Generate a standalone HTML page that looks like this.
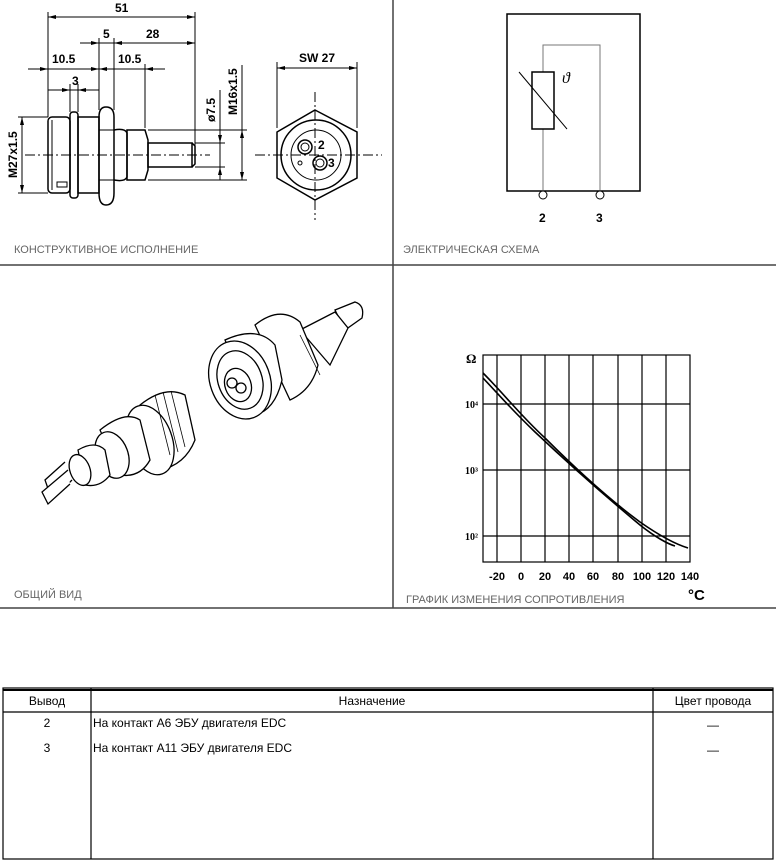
<!DOCTYPE html>
<html><head><meta charset="utf-8"><style>
html,body{margin:0;padding:0;background:#fff;}
body{width:776px;height:866px;overflow:hidden;position:relative;font-family:"Liberation Sans","DejaVu Sans",sans-serif;}
svg{position:absolute;left:0;top:0;}
text{stroke:none;}
.cap{font-family:"Liberation Sans",sans-serif;font-size:11px;fill:#666;}
.d{font-family:"Liberation Sans",sans-serif;font-size:12px;font-weight:bold;fill:#000;}
.t{font-family:"Liberation Sans",sans-serif;font-size:12px;fill:#000;}
</style></head><body>
<svg width="776" height="866" viewBox="0 0 776 866" fill="none" stroke="#000">
<line x1="393" y1="0" x2="393" y2="608" stroke="#444" stroke-width="1.5"/>
<line x1="0" y1="265" x2="776" y2="265" stroke="#444" stroke-width="1.5"/>
<line x1="0" y1="608" x2="776" y2="608" stroke="#444" stroke-width="1.5"/>

<g stroke-width="1">
<line x1="48" y1="17" x2="195" y2="17"/>
<line x1="80" y1="43" x2="195" y2="43"/>
<line x1="28" y1="69" x2="165" y2="69"/>
<line x1="48" y1="90" x2="99" y2="90"/>
<line x1="48" y1="12" x2="48" y2="117"/>
<line x1="195" y1="12" x2="195" y2="150"/>
<line x1="99" y1="38" x2="99" y2="110"/>
<line x1="114" y1="38" x2="114" y2="110"/>
<line x1="145" y1="64" x2="145" y2="128"/>
<line x1="70" y1="84" x2="70" y2="112"/>
<line x1="78" y1="84" x2="78" y2="112"/>
<line x1="220" y1="90" x2="220" y2="180"/>
<line x1="242" y1="65" x2="242" y2="180"/>
<line x1="22" y1="117" x2="22" y2="193"/>
<line x1="18" y1="117" x2="48" y2="117"/>
<line x1="18" y1="193" x2="48" y2="193"/>
<line x1="195" y1="143" x2="225" y2="143"/>
<line x1="195" y1="167" x2="225" y2="167"/>
<line x1="148" y1="130" x2="247" y2="130"/>
<line x1="148" y1="180" x2="247" y2="180"/>
<line x1="25" y1="155" x2="210" y2="155" stroke-dasharray="10,3,2,3"/>
<rect x="48" y="117" width="22" height="76" rx="4" stroke-width="1.5"/>
<line x1="52" y1="120" x2="52" y2="190"/>
<rect x="57" y="182" width="10" height="5"/>
<rect x="70" y="112" width="8" height="86" rx="3" stroke-width="1.5"/>
<rect x="78" y="117" width="21" height="76" stroke-width="1.5"/>
<path d="M99 117 Q99 107 106 107 Q114 107 114 117 L114 193 Q114 205 106 205 Q99 205 99 193 Z" stroke-width="1.5"/>
<line x1="99" y1="130" x2="114" y2="130"/><line x1="99" y1="180" x2="114" y2="180"/>
<path d="M114 130 Q125 128 127 133 L127 177 Q125 182 114 180" stroke-width="1.5"/>
<path d="M127 130 L145 130 L148 140 L148 170 L145 180 L127 180 Z" stroke-width="1.5"/>
<rect x="148" y="143" width="44" height="24" stroke-width="1.5"/>
<path d="M192 143 L195 146 L195 164 L192 167" stroke-width="1.5"/>
<line x1="255" y1="155" x2="382" y2="155" stroke-dasharray="10,3,2,3"/>
<line x1="315" y1="92" x2="315" y2="220" stroke-dasharray="10,3,2,3"/>
<line x1="277" y1="62" x2="277" y2="128"/>
<line x1="357" y1="62" x2="357" y2="128"/>
<line x1="277" y1="68" x2="357" y2="68"/>
<polygon points="315,110 357,132 357,178 315,200 277,178 277,132" stroke-width="1.5"/>
<circle cx="316" cy="155" r="35" stroke-width="1.5"/>
<circle cx="316" cy="155" r="25"/>
<circle cx="305" cy="147" r="7" stroke-width="1.5"/><circle cx="305" cy="147" r="4"/>
<circle cx="320" cy="163" r="7" stroke-width="1.5"/><circle cx="320" cy="163" r="4"/>
<circle cx="300" cy="163" r="2"/>
</g>
<g fill="#000" stroke="none">
<polygon points="48,17 56,15 56,19"/><polygon points="195,17 187,15 187,19"/>
<polygon points="99,43 91,41 91,45"/><polygon points="114,43 122,41 122,45"/><polygon points="195,43 187,41 187,45"/>
<polygon points="48,69 40,67 40,71"/><polygon points="99,69 91,67 91,71"/><polygon points="99,69 107,67 107,71"/><polygon points="145,69 153,67 153,71"/>
<polygon points="70,90 62,88 62,92"/><polygon points="78,90 86,88 86,92"/>
<polygon points="277,68 285,66 285,70"/><polygon points="357,68 349,66 349,70"/>
<polygon points="22,117 20,125 24,125"/><polygon points="22,193 20,185 24,185"/>
<polygon points="220,143 218,135 222,135"/><polygon points="220,167 218,175 222,175"/>
<polygon points="242,130 240,138 244,138"/><polygon points="242,180 240,172 244,172"/>
</g>
<text class="d" x="115" y="12">51</text>
<text class="d" x="103" y="38">5</text>
<text class="d" x="146" y="38">28</text>
<text class="d" x="52" y="63">10.5</text>
<text class="d" x="118" y="63">10.5</text>
<text class="d" x="72" y="85">3</text>
<text class="d" x="299" y="62">SW 27</text>
<text class="d" x="318" y="149" font-size="11">2</text>
<text class="d" x="328" y="167" font-size="11">3</text>
<text class="d" transform="translate(17,178) rotate(-90)">M27x1.5</text>
<text class="d" transform="translate(215,122) rotate(-90)">ø7.5</text>
<text class="d" transform="translate(237,115) rotate(-90)">M16x1.5</text>
<text class="cap" x="14" y="253">КОНСТРУКТИВНОЕ ИСПОЛНЕНИЕ</text>

<rect x="507" y="14" width="133" height="177" stroke-width="1.5"/>
<polyline points="543,191 543,45 600,45 600,191" stroke="#777" stroke-width="1"/>
<rect x="532" y="72" width="22" height="57" fill="#fff" stroke-width="1.5"/>
<line x1="519" y1="72" x2="567" y2="129"/>
<circle cx="543" cy="195" r="4" fill="#fff"/>
<circle cx="600" cy="195" r="4" fill="#fff"/>
<text x="562" y="83" font-family="Liberation Serif" font-style="italic" font-size="16" fill="#000">ϑ</text>
<text class="d" x="539" y="222">2</text>
<text class="d" x="596" y="222">3</text>
<text class="cap" x="403" y="253">ЭЛЕКТРИЧЕСКАЯ СХЕМА</text>

<g stroke-width="1.2">
<rect x="483" y="355" width="207" height="207"/>
<line x1="497" y1="355" x2="497" y2="562"/><line x1="521" y1="355" x2="521" y2="562"/>
<line x1="545" y1="355" x2="545" y2="562"/><line x1="569" y1="355" x2="569" y2="562"/>
<line x1="593" y1="355" x2="593" y2="562"/><line x1="618" y1="355" x2="618" y2="562"/>
<line x1="642" y1="355" x2="642" y2="562"/><line x1="666" y1="355" x2="666" y2="562"/>
<line x1="483" y1="404" x2="690" y2="404"/><line x1="483" y1="470" x2="690" y2="470"/><line x1="483" y1="536" x2="690" y2="536"/>
<path d="M483 373 C505 395 520 415 545 438 C575 468 610 500 640 522 C660 536 675 544 688 548" stroke-width="1.6"/>
<path d="M483 378 C500 396 512 410 535 432 C570 465 610 500 640 525 C655 537 668 544 675 546" stroke-width="1.6"/>
</g>
<g font-family="Liberation Serif" font-size="10" fill="#000" font-weight="bold">
<text x="465" y="408">10⁴</text><text x="465" y="474">10³</text><text x="465" y="540">10²</text>
<text x="466" y="363" font-size="13">Ω</text>
</g>
<g font-size="11" text-anchor="middle" fill="#000" font-family="Liberation Sans" font-weight="bold">
<text x="497" y="580">-20</text><text x="521" y="580">0</text><text x="545" y="580">20</text><text x="569" y="580">40</text>
<text x="593" y="580">60</text><text x="618" y="580">80</text><text x="642" y="580">100</text><text x="666" y="580">120</text><text x="690" y="580">140</text>
</g>
<text x="688" y="600" font-family="Liberation Sans" font-weight="bold" font-size="15" fill="#000">°C</text>
<text class="cap" x="406" y="603">ГРАФИК ИЗМЕНЕНИЯ СОПРОТИВЛЕНИЯ</text>

<g stroke-width="1.3" fill="#fff">
<path d="M335 310 L355 302 Q365 305 362 318 L345 330 Z"/>
<path d="M300 330 L335 312 L348 328 L330 365 Z"/>
<path d="M255 325 Q280 305 300 322 L318 365 Q312 390 290 400 Z"/>
<path d="M225 340 Q258 325 275 345 L282 380 Q275 410 255 415 Z"/>
<ellipse cx="240" cy="380" rx="30" ry="40" transform="rotate(-20 240 380)"/>
<ellipse cx="240" cy="380" rx="22" ry="30" transform="rotate(-20 240 380)"/>
<ellipse cx="238" cy="385" rx="13" ry="17" transform="rotate(-20 238 385)"/>
<circle cx="232" cy="383" r="5"/><circle cx="241" cy="388" r="5"/>
<path d="M140 405 Q165 385 185 395 L195 440 Q185 465 160 470 Z"/>
<ellipse cx="150" cy="440" rx="22" ry="36" transform="rotate(-20 150 440)"/>
<path d="M100 430 Q125 410 140 420 L150 460 Q140 478 120 475 Z"/>
<ellipse cx="112" cy="455" rx="16" ry="24" transform="rotate(-20 112 455)"/>
<path d="M78 450 Q95 440 105 450 L110 475 Q100 488 85 485 Z"/>
<ellipse cx="80" cy="470" rx="10" ry="16" transform="rotate(-20 80 470)"/>
<path d="M65 462 L45 480 L52 500 L72 480"/>
<path d="M68 470 L42 492 L48 504 L70 484"/>
</g>
<g stroke-width="0.8">
<line x1="155" y1="395" x2="170" y2="455"/><line x1="163" y1="392" x2="178" y2="452"/><line x1="171" y1="391" x2="185" y2="447"/>
<line x1="300" y1="335" x2="320" y2="375"/>
</g>
<text class="cap" x="14" y="598">ОБЩИЙ ВИД</text>

<g stroke="#000" stroke-width="1.2">
<rect x="3" y="688" width="770" height="171"/>
<line x1="3" y1="712" x2="773" y2="712"/>
<line x1="91" y1="688" x2="91" y2="859"/>
<line x1="653" y1="688" x2="653" y2="859"/>
<line x1="3" y1="690" x2="773" y2="690" stroke-width="2"/>
</g>
<g fill="#000">
<text class="t" x="47" y="705" text-anchor="middle">Вывод</text>
<text class="t" x="372" y="705" text-anchor="middle">Назначение</text>
<text class="t" x="713" y="705" text-anchor="middle">Цвет провода</text>
<text class="t" x="47" y="727" text-anchor="middle" font-size="13">2</text>
<text class="t" x="47" y="752" text-anchor="middle" font-size="13">3</text>
<text class="t" x="93" y="727">На контакт А6 ЭБУ двигателя EDC</text>
<text class="t" x="93" y="752">На контакт А11 ЭБУ двигателя EDC</text>
<text class="t" x="713" y="729" text-anchor="middle">—</text>
<text class="t" x="713" y="754" text-anchor="middle">—</text>
</g>
</svg>
</body></html>
